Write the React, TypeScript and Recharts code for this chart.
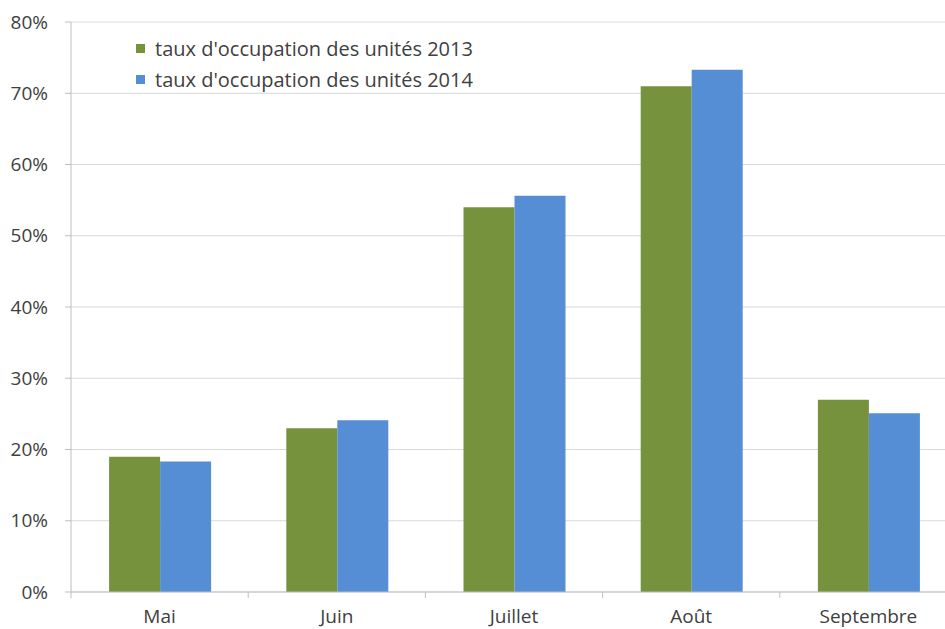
import React from "react";
import { BarChart, Bar, XAxis, YAxis, CartesianGrid } from "recharts";

const months = ["Mai", "Juin", "Juillet", "Août", "Septembre"];
const occupancy2013 = [0.19, 0.23, 0.54, 0.71, 0.27];
const occupancy2014 = [0.183, 0.241, 0.556, 0.733, 0.251];
const yTicks = [0, 0.1, 0.2, 0.3, 0.4, 0.5, 0.6, 0.7, 0.8];

const seriesNames = ["taux d'occupation des unités 2013", "taux d'occupation des unités 2014"];
const colors = ["#77923C", "#558ED5"];

const data = months.map((month, i) => ({
  month,
  y2013: occupancy2013[i],
  y2014: occupancy2014[i],
}));

// the original picture is cropped on the right, so the chart is drawn a bit wider
const VIEW_W = 945;
const WIDTH = 961;
const HEIGHT = 629;
const MARGIN = { top: 22, right: 4, left: 0, bottom: 0 };
const Y_WIDTH = 71;
const X_HEIGHT = 37;
const X_TICK_SIZE = 6;
const X_TICK_MARGIN = 12;
const FONT = "'Open Sans', Lato, sans-serif";

const MonthTick = (props: any) => {
  const { x, y, payload, index } = props;
  const plotWidth = WIDTH - MARGIN.left - MARGIN.right - Y_WIDTH;
  const half = payload?.offset || plotWidth / months.length / 2;
  const axisY = y - X_TICK_SIZE - X_TICK_MARGIN;
  return (
    <g>
      <line x1={x - half} x2={x - half} y1={axisY} y2={axisY + X_TICK_SIZE} stroke="#bfbfbf" />
      {index === months.length - 1 && (
        <line x1={x + half} x2={x + half} y1={axisY} y2={axisY + X_TICK_SIZE} stroke="#bfbfbf" />
      )}
      <text x={x} y={y} dy="0.71em" textAnchor="middle" fill="#404040" fontSize={19} fontFamily={FONT}>
        {payload.value}
      </text>
    </g>
  );
};

const ChartLegend = () => (
  <div
    style={{
      position: "absolute",
      left: 136,
      top: 33,
      fontFamily: FONT,
      fontSize: 20,
      color: "#404040",
      lineHeight: "31px",
    }}
  >
    {seriesNames.map((name, i) => (
      <div key={name} style={{ display: "flex", alignItems: "center" }}>
        <span style={{ width: 9, height: 9, background: colors[i], display: "inline-block", marginRight: 10 }} />
        <span>{name}</span>
      </div>
    ))}
  </div>
);

export default function App() {
  return (
    <div
      style={{
        position: "absolute",
        left: 0,
        top: 0,
        width: VIEW_W,
        height: HEIGHT,
        overflow: "hidden",
        background: "#fff",
      }}
    >
      <BarChart width={WIDTH} height={HEIGHT} data={data} margin={MARGIN} barCategoryGap="21.5%" barGap={0}>
        <CartesianGrid vertical={false} stroke="#d9d9d9" />
        <XAxis
          dataKey="month"
          height={X_HEIGHT}
          axisLine={{ stroke: "#bfbfbf" }}
          tickLine={false}
          tickSize={X_TICK_SIZE}
          tickMargin={X_TICK_MARGIN}
          tick={<MonthTick />}
          interval={0}
        />
        <YAxis
          width={Y_WIDTH}
          domain={[0, 0.8]}
          ticks={yTicks}
          tickFormatter={(v: number) => `${Math.round(v * 100)}%`}
          axisLine={{ stroke: "#bfbfbf" }}
          tickLine={{ stroke: "#bfbfbf" }}
          tickSize={6}
          tickMargin={17}
          tick={{ fill: "#404040", fontSize: 19, fontFamily: FONT }}
        />
        <Bar dataKey="y2013" name={seriesNames[0]} fill={colors[0]} isAnimationActive={false} />
        <Bar dataKey="y2014" name={seriesNames[1]} fill={colors[1]} isAnimationActive={false} />
      </BarChart>
      <ChartLegend />
    </div>
  );
}
